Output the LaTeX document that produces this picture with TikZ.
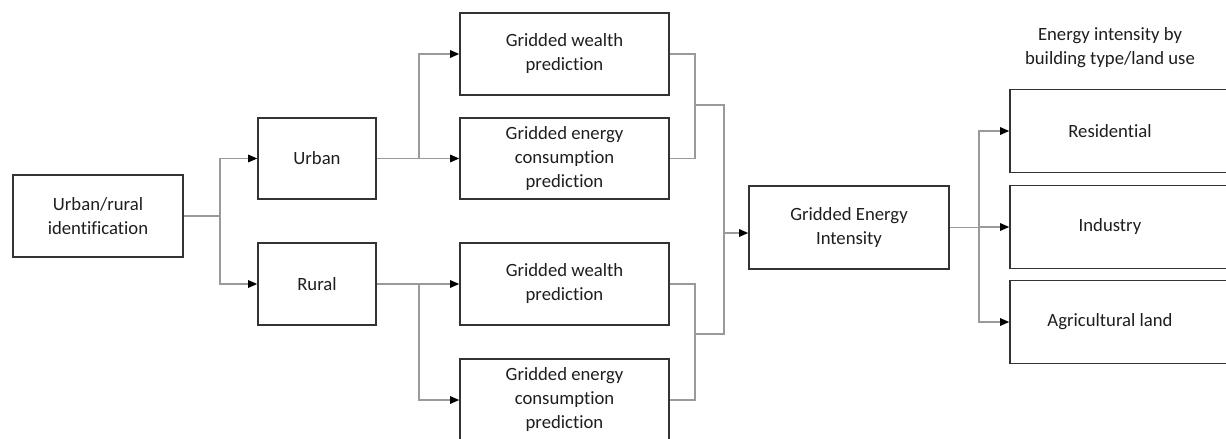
\documentclass[tikz,border=0pt]{standalone}
\usepackage{fontspec}
\setmainfont{Carlito}[Ligatures={NoCommon}]
\usetikzlibrary{arrows.meta}
\definecolor{boxline}{HTML}{333333}
\definecolor{connline}{HTML}{9A9A9A}
\definecolor{txt}{HTML}{1E1E1E}
\tikzset{
  box/.style={draw=boxline, line width=1.6pt, rectangle, align=center, text=txt,
    font=\fontsize{18.7}{24}\selectfont, inner sep=0pt},
  conn/.style={draw=connline, line width=1.3pt},
  arr/.style={conn, -{Triangle[length=9pt,width=7.5pt,color=black]}},
  lbl/.style={align=center, text=txt, font=\fontsize{18.7}{24}\selectfont, inner sep=0pt}
}
\begin{document}
\begin{tikzpicture}[x=1pt,y=-1pt]
\useasboundingbox (0,0) rectangle (1226,439);
\clip (0,0) rectangle (1226,439);
\fill[white] (0,0) rectangle (1226,439);
% nodes
\node[box, minimum width=170, minimum height=82] (ur) at (98,216) {Urban/rural\\identification};
\node[box, minimum width=118, minimum height=81] (urban) at (317,158.5) {Urban};
\node[box, minimum width=118, minimum height=82] (rural) at (317,284) {Rural};
\node[box, minimum width=209, minimum height=82] (w1) at (564.5,54) {Gridded wealth\\prediction};
\node[box, minimum width=209, minimum height=81] (e1) at (564.5,158.5) {Gridded energy\\consumption\\prediction};
\node[box, minimum width=209, minimum height=82] (w2) at (564.5,284) {Gridded wealth\\prediction};
\node[box, minimum width=209, minimum height=82] (e2) at (564.5,400) {Gridded energy\\consumption\\prediction};
\node[box, minimum width=200, minimum height=83] (gei) at (849,227.5) {Gridded Energy\\Intensity};
\node[box, minimum width=230, minimum height=83] (res) at (1125,131) {\hspace*{-30pt}Residential};
\node[box, minimum width=230, minimum height=83] (ind) at (1125,227) {\hspace*{-30pt}Industry};
\node[box, minimum width=230, minimum height=83] (agr) at (1125,322) {\hspace*{-30pt}Agricultural land};
\node[lbl] (hdr) at (1110,48) {Energy intensity by\\building type/land use};
% junction coordinates
\coordinate (b0) at (220,216);
\coordinate (b1) at (419,158.5);
\coordinate (b2) at (419,284);
\coordinate (m1) at (695,105);
\coordinate (m2) at (695,334);
\coordinate (j1) at (724,105);
\coordinate (j2) at (724,334);
\coordinate (ja) at (724,233);
\coordinate (k) at (979,227.5);
% connectors
\draw[conn] (ur.east) -- (b0);
\draw[arr] (b0) |- (urban.west);
\draw[arr] (b0) |- (rural.west);
\draw[arr] (urban.east) -- (e1.west);
\draw[arr] (b1) |- (w1.west);
\draw[arr] (rural.east) -- (w2.west);
\draw[arr] (b2) |- (e2.west);
\draw[conn] (w1.east) -| (m1) |- (e1.east);
\draw[conn] (w2.east) -| (m2) |- (e2.east);
\draw[conn] (m1) -- (j1) -- (j2) -- (m2);
\draw[arr] (ja) -- (ja -| gei.west);
\draw[conn] (gei.east) -- (k);
\draw[arr] (k) |- (res.west);
\draw[arr] (k) |- (ind.west);
\draw[arr] (k) |- (agr.west);
\end{tikzpicture}
\end{document}
